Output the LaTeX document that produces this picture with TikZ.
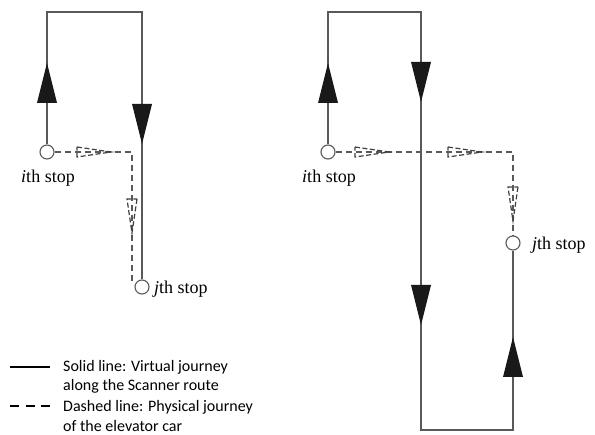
\documentclass[tikz,border=0pt]{standalone}
\usepackage{fontspec}
\setmainfont{Liberation Serif}
\newfontfamily\legendfont{Carlito}
\begin{document}
\begin{tikzpicture}[x=1pt,y=-1pt,
  route/.style={draw=black!65,line width=1.3pt},
  phys/.style={draw=black!65,line width=1.3pt,dash pattern=on 6pt off 4pt},
  stopc/.style={circle,draw=black!65,line width=1.1pt,minimum size=14pt,inner sep=0pt},
  stoplbl/.style={font=\fontsize{18}{20}\selectfont,inner sep=0pt},
  legtxt/.style={font=\legendfont\fontsize{16}{19.5}\selectfont,align=left,anchor=west,inner sep=0pt},
  tri/.pic={\fill[black!90] (-10,20) -- (0,-20) -- (10,20) -- cycle;},
  htri/.pic={\draw[black!75,line width=1.2pt,dash pattern=on 5pt off 2.5pt] (-17,-5) -- (17,0) -- (-17,5) -- cycle;}
]
\useasboundingbox (0,0) rectangle (595,435);
% ---------- left diagram ----------
\coordinate (TL1) at (47,12);
\coordinate (TR1) at (142,12);
\node[stopc] (i1) at (47,152) {};
\node[stopc] (j1) at (142,287) {};
\coordinate (c1) at (132,152);
\draw[route] (i1.north) -- (TL1) -- (TR1) -- (j1.north);
\draw[phys] (i1.east) -- (c1) -- (c1 |- j1.north west);
\pic at (47,83) {tri};
\pic[rotate=180] at (142,124) {tri};
\pic at (94,152) {htri};
\pic[rotate=-90] at (132,216) {htri};
\node[stoplbl] (li1) at (48,178) {\textit{i}th stop};
\node[stoplbl,anchor=west] (lj1) at (154,289) {\textit{j}th stop};
% ---------- right diagram ----------
\coordinate (TL2) at (328,12);
\coordinate (TR2) at (421,12);
\coordinate (BL2) at (421,430);
\coordinate (BR2) at (513,430);
\node[stopc] (i2) at (328,152) {};
\node[stopc] (j2) at (513,243) {};
\coordinate (c2) at (513,152);
\draw[route] (i2.north) -- (TL2) -- (TR2) -- (BL2) -- (BR2) -- (j2.south);
\draw[phys] (i2.east) -- (c2) -- (j2.north);
\pic at (328,83) {tri};
\pic[rotate=180] at (421,82) {tri};
\pic[rotate=180] at (421,305) {tri};
\pic at (513,357) {tri};
\pic at (372,152) {htri};
\pic at (465,152) {htri};
\pic[rotate=-90] at (513,204) {htri};
\node[stoplbl] (li2) at (329,178) {\textit{i}th stop};
\node[stoplbl,anchor=west] (lj2) at (532,245) {\textit{j}th stop};
% ---------- legend ----------
\coordinate (s1) at (10,367);
\coordinate (s2) at (50,367);
\coordinate (d1) at (10,406);
\coordinate (d2) at (50,406);
\draw[black,line width=1.6pt] (s1) -- (s2);
\draw[black,line width=1.8pt,dash pattern=on 9pt off 6.5pt] (d1) -- (d2);
\node[legtxt] (t1) at (63,377) {Solid line: Virtual journey\\along the Scanner route};
\node[legtxt] (t2) at (63,416) {Dashed line: Physical journey\\of the elevator car};
\end{tikzpicture}
\end{document}
